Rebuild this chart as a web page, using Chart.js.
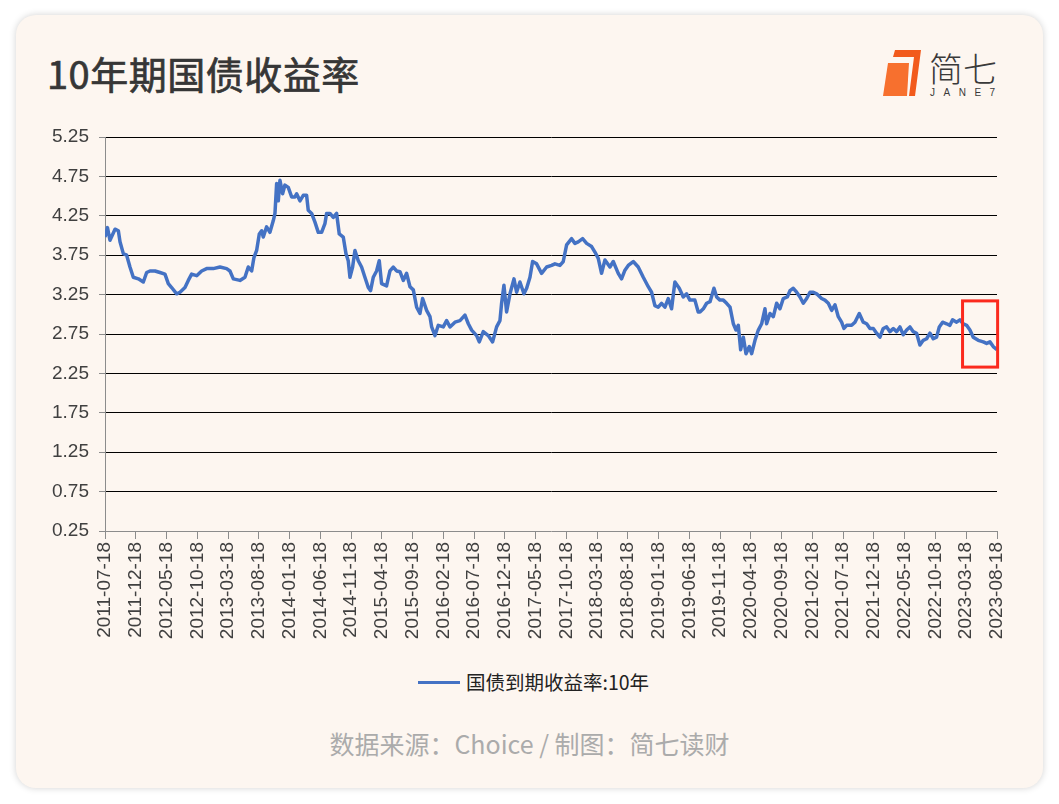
<!DOCTYPE html>
<html>
<head>
<meta charset="utf-8">
<script src="https://cdn.jsdelivr.net/npm/chart.js@4.4.0/dist/chart.umd.min.js"></script>
<style>
	html, body { margin: 0; padding: 0; background: #ffffff; }
	body { width: 1059px; height: 804px; position: relative; overflow: hidden; font-family: "Noto Sans CJK SC", "Noto Sans", sans-serif; }
	#card { position: absolute; left: 16px; top: 15px; width: 1027px; height: 773px; border-radius: 20px; background: #fdf6f0; box-shadow: 0 0 7px rgba(0,0,0,0.18); }
	#title { position: absolute; left: 47px; top: 45px; font-size: 38px; font-weight: 400; color: #363636; letter-spacing: 0.5px; -webkit-text-stroke: 0.7px #363636; }
	#chartBox { position: absolute; left: 0; top: 0; width: 1059px; height: 665px; }
	#legend { position: absolute; left: 418px; top: 667px; height: 26px; font-size: 19.5px; color: #222222; white-space: nowrap; }
	#legend span.mark { display: inline-block; width: 42px; height: 3px; background: #4472c4; vertical-align: middle; margin-right: 6px; position: relative; top: -2px; }
	#source { position: absolute; left: 0; width: 1059px; top: 725px; text-align: center; font-size: 25px; color: #ababab; }
	#logo { position: absolute; left: 880px; top: 46px; }
</style>
</head>
<body>
<div id="card"></div>
<div id="title">10年期国债收益率</div>
<svg id="logo" width="130" height="56" viewBox="880 46 130 56">
	<polygon points="888,63 909,63 907,96 883,96" fill="#f7702e"/>
	<polygon points="895,50 921,50 915,96 909,96 914,57 893,57" fill="#f25a1c"/>
	<text x="929" y="82" font-family="Noto Sans CJK SC" font-weight="300" font-size="34" fill="#3a3a3a">简七</text>
	<text x="930" y="96" font-family="Liberation Sans" font-size="10" fill="#3a3a3a" letter-spacing="8.5">JANE7</text>
</svg>
<div id="chartBox"><canvas id="myChart"></canvas></div>
<div id="legend"><span class="mark"></span>国债到期收益率:10年</div>
<div id="source">数据来源：Choice / 制图：简七读财</div>

<script>
// months since 2011-07-18
var months = [
	0, 0.4, 0.81, 1.63, 2.17, 2.44, 2.98, 3.52, 4.06, 4.6, 5.42, 6.23, 6.77, 7.31, 8.13, 8.94, 9.75,
	10.29, 10.83, 11.65, 12.19, 13.0, 13.54, 14.08, 14.9, 15.71, 16.52, 17.6, 18.69, 19.77, 20.31,
	20.86, 21.94, 22.75, 23.29, 23.84, 24.21, 24.65, 25.08, 25.46, 25.73, 26.27, 26.81, 27.36, 27.63,
	27.9, 28.17, 28.44, 28.87, 29.25, 29.79, 30.34, 30.88, 31.15, 31.69, 32.23, 32.77, 33.04, 33.59,
	34.13, 34.67, 35.21, 35.75, 36.02, 36.57, 37.11, 37.65, 38.08, 38.73, 39.17, 39.54, 39.82, 40.25,
	40.63, 41.17, 41.71, 42.25, 42.8, 43.17, 43.61, 44.15, 44.58, 44.96, 45.77, 46.32, 46.86, 47.4,
	47.95, 48.49, 49.03, 49.58, 50.12, 50.66, 51.2, 51.63, 52.28, 52.83, 53.1, 53.64, 54.18, 54.99,
	55.53, 56.08, 56.89, 57.7, 58.51, 59.06, 59.6, 60.41, 60.84, 61.49, 62.3, 63.01, 63.66, 64.2,
	64.47, 64.85, 65.28, 65.83, 66.48, 66.91, 67.45, 68.1, 68.54, 69.08, 69.51, 70.16, 70.97, 71.79,
	72.6, 73.14, 73.95, 74.49, 75.04, 75.85, 76.39, 76.93, 77.64, 78.29, 79.1, 79.64, 80.18, 80.72,
	81.27, 82.08, 82.62, 83.43, 83.97, 84.52, 85.06, 85.87, 86.68, 87.5, 88.31, 88.85, 89.39, 89.93,
	90.47, 91.02, 91.56, 92.1, 92.64, 93.35, 94.0, 94.54, 95.08, 95.89, 96.43, 96.72, 97.26, 97.8,
	98.35, 98.99, 99.43, 99.97, 100.51, 101.05, 101.6, 102.14, 102.57, 102.95, 103.33, 103.76, 104.2,
	104.74, 105.12, 105.66, 106.2, 106.74, 107.28, 107.55, 108.1, 108.64, 109.18, 109.72, 110.26,
	110.91, 111.35, 111.89, 112.43, 112.97, 113.51, 114.06, 114.6, 115.14, 115.68, 116.49, 117.03,
	117.58, 118.12, 118.66, 119.2, 119.74, 120.12, 120.56, 121.37, 121.91, 122.61, 123.26, 123.81,
	124.35, 124.89, 125.43, 125.97, 126.51, 127.06, 127.6, 128.14, 128.68, 129.22, 129.76, 130.31,
	130.85, 131.39, 131.93, 132.47, 133.01, 133.56, 134.1, 134.64, 135.18, 135.62, 136.16, 136.81,
	137.35, 137.78, 138.43, 138.97, 139.52, 140.06, 140.6, 141.14, 141.95, 142.77, 143.31, 143.85,
	144.39, 145
];

// 国债到期收益率:10年 (%)
var yields = [
	3.98, 4.10, 3.94, 4.08, 4.06, 3.92, 3.77, 3.75, 3.60, 3.47, 3.45, 3.41, 3.53, 3.55, 3.55, 3.53, 3.51,
	3.39, 3.34, 3.26, 3.28, 3.34, 3.43, 3.51, 3.49, 3.55, 3.58, 3.58, 3.60, 3.58, 3.55,
	3.45, 3.43, 3.47, 3.60, 3.55, 3.72, 3.81, 4.02, 4.06, 3.98, 4.11, 4.04, 4.19, 4.28,
	4.66, 4.44, 4.70, 4.53, 4.64, 4.61, 4.49, 4.49, 4.53, 4.44, 4.51, 4.51, 4.32, 4.28,
	4.17, 4.04, 4.04, 4.15, 4.28, 4.28, 4.23, 4.28, 4.02, 3.98, 3.77, 3.68, 3.47, 3.60,
	3.81, 3.68, 3.60, 3.47, 3.34, 3.30, 3.47, 3.55, 3.68, 3.39, 3.36, 3.55, 3.60, 3.55,
	3.54, 3.43, 3.52, 3.35, 3.31, 3.09, 3.01, 3.20, 3.05, 2.97, 2.84, 2.73, 2.86, 2.84,
	2.92, 2.84, 2.90, 2.92, 2.99, 2.88, 2.80, 2.73, 2.65, 2.78, 2.73, 2.65, 2.84, 2.92,
	3.14, 3.37, 3.03, 3.26, 3.45, 3.28, 3.41, 3.26, 3.33, 3.47, 3.67, 3.64, 3.52, 3.60,
	3.62, 3.64, 3.62, 3.67, 3.88, 3.96, 3.90, 3.92, 3.96, 3.90, 3.86, 3.79, 3.71, 3.52,
	3.69, 3.60, 3.67, 3.52, 3.45, 3.56, 3.62, 3.67, 3.60, 3.47, 3.35, 3.28, 3.11, 3.09,
	3.14, 3.09, 3.20, 3.07, 3.41, 3.33, 3.22, 3.26, 3.18, 3.18, 3.03, 3.03, 3.07, 3.14,
	3.16, 3.33, 3.22, 3.18, 3.18, 3.14, 3.09, 2.88, 2.80, 2.86, 2.55, 2.71, 2.50,
	2.59, 2.50, 2.67, 2.80, 2.88, 3.07, 2.88, 3.01, 2.97, 3.14, 3.07, 3.20,
	3.22, 3.30, 3.33, 3.28, 3.22, 3.14, 3.20, 3.28, 3.28, 3.26, 3.20, 3.18,
	3.14, 3.05, 3.12, 2.97, 2.90, 2.82, 2.86, 2.86, 2.90, 3.01, 2.90, 2.88,
	2.82, 2.82, 2.76, 2.71, 2.82, 2.84, 2.78, 2.82, 2.78, 2.84, 2.74, 2.80,
	2.84, 2.78, 2.76, 2.61, 2.67, 2.69, 2.76, 2.69, 2.71, 2.84, 2.90, 2.88,
	2.86, 2.93, 2.90, 2.93, 2.88, 2.86, 2.80, 2.71, 2.67, 2.65, 2.63, 2.65,
	2.59, 2.55
];

// x-axis labels, one every 5 months
var tickLabels = [
	"2011-07-18", "2011-12-18", "2012-05-18", "2012-10-18", "2013-03-18", "2013-08-18",
	"2014-01-18", "2014-06-18", "2014-11-18", "2015-04-18", "2015-09-18", "2016-02-18",
	"2016-07-18", "2016-12-18", "2017-05-18", "2017-10-18", "2018-03-18", "2018-08-18",
	"2019-01-18", "2019-06-18", "2019-11-18", "2020-04-18", "2020-09-18", "2021-02-18",
	"2021-07-18", "2021-12-18", "2022-05-18", "2022-10-18", "2023-03-18", "2023-08-18"
];
var yTickValues = [0.25, 0.75, 1.25, 1.75, 2.25, 2.75, 3.25, 3.75, 4.25, 4.75, 5.25];

// red box around the latest stretch (months / yield)
var highlight = { from: 139.4, to: 145.1, high: 3.17, low: 2.33 };

var lineColor = "#4472c4";
var axisGray = "#8c8c8c";
var tickFont = { family: "Liberation Sans", size: 19 };

var boxPlugin = {
	id: "highlightBox",
	afterDatasetsDraw: function(chart) {
		var x = chart.scales.x, y = chart.scales.y, ctx = chart.ctx;
		var l = x.getPixelForValue(highlight.from);
		var r = x.getPixelForValue(highlight.to);
		var t = y.getPixelForValue(highlight.high);
		var b = y.getPixelForValue(highlight.low);
		ctx.save();
		ctx.strokeStyle = "#fb2a1e";
		ctx.lineWidth = 3;
		ctx.strokeRect(l, t, r - l, b - t);
		ctx.restore();
	}
};

var points = [];
for (var i = 0; i < months.length; i++) {
	points.push({ x: months[i], y: yields[i] });
}

var ctx = document.getElementById("myChart").getContext("2d");
var chart = new Chart(ctx, {
	type: "line",
	data: {
		datasets: [ {
			label: "国债到期收益率:10年",
			data: points,
			borderColor: lineColor,
			backgroundColor: lineColor,
			borderWidth: 3.5,
			borderJoinStyle: "round",
			pointRadius: 0,
			tension: 0,
			fill: false
		} ]
	},
	options: {
		responsive: true,
		maintainAspectRatio: false,
		animation: false,
		layout: { padding: { left: 50, right: 62, top: 137, bottom: 14 } },
		plugins: {
			legend: { display: false },
			tooltip: { enabled: false }
		},
		scales: {
			x: {
				type: "linear",
				min: 0,
				max: 145,
				afterBuildTicks: function(scale) {
					scale.ticks = tickLabels.map(function(l, i) { return { value: i * 5 }; });
				},
				afterFit: function(scale) { scale.height = 120; },
				ticks: {
					autoSkip: false,
					minRotation: 90,
					maxRotation: 90,
					color: "#404040",
					font: tickFont,
					padding: 3,
					callback: function(v) { return tickLabels[Math.round(v / 5)]; }
				},
				grid: { drawOnChartArea: false, drawTicks: true, tickLength: 8, tickColor: axisGray },
				border: { color: axisGray, width: 1 }
			},
			y: {
				min: 0.25,
				max: 5.25,
				afterBuildTicks: function(scale) {
					scale.ticks = yTickValues.map(function(v) { return { value: v }; });
				},
				afterFit: function(scale) { scale.width = 55; },
				ticks: {
					color: "#404040",
					font: tickFont,
					padding: 10,
					callback: function(v) { return v.toFixed(2); }
				},
				grid: {
					color: function(c) { return c.tick && c.tick.value === 0.25 ? "rgba(0,0,0,0)" : "#000000"; },
					lineWidth: 1,
					tickLength: 6,
					tickColor: axisGray
				},
				border: { color: axisGray, width: 1 }
			}
		}
	},
	plugins: [ boxPlugin ]
});
</script>
</body>
</html>
